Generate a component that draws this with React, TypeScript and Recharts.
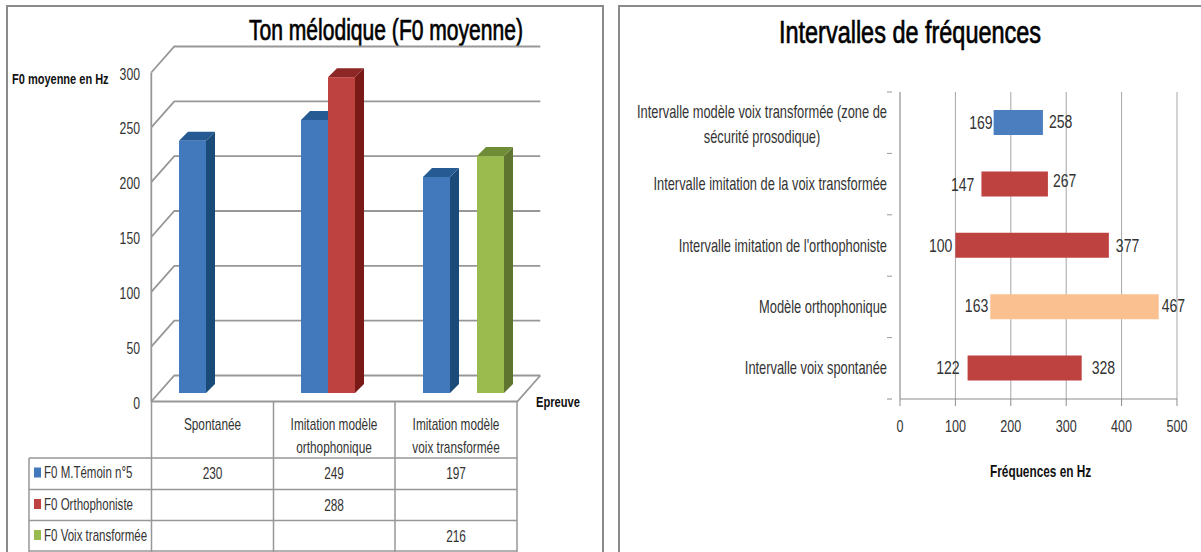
import { BarChart, Bar, XAxis, YAxis, CartesianGrid, Cell, LabelList } from "recharts";

const FONT = "'Liberation Sans', sans-serif";
const TEXT = "#333333";
const LINE = "#979797";

// left chart
const epreuves = ["Spontanée", "Imitation modèle orthophonique", "Imitation modèle voix transformée"];
const epreuveLines = [["Spontanée"], ["Imitation modèle", "orthophonique"], ["Imitation modèle", "voix transformée"]];
const temoin = [230, 249, 197];
const orthophoniste = [null, 288, null];
const voixTransformee = [null, null, 216];
const f0Ticks = [0, 50, 100, 150, 200, 250, 300];

const tableRows = [
    { name: "F0 M.Témoin n°5", values: temoin, color: "#4279bd" },
    { name: "F0 Orthophoniste", values: orthophoniste, color: "#be4340" },
    { name: "F0 Voix transformée", values: voixTransformee, color: "#9bbb4f" },
];

const f0Data = epreuves.map((name, i) => ({
    name,
    temoin: temoin[i],
    orthophoniste: orthophoniste[i],
    voix: voixTransformee[i],
}));

// right chart
const intervalNames = [
    "Intervalle modèle voix transformée (zone de sécurité prosodique)",
    "Intervalle imitation de la voix transformée",
    "Intervalle imitation de l'orthophoniste",
    "Modèle orthophonique",
    "Intervalle voix spontanée",
];
const lows = [169, 147, 100, 163, 122];
const highs = [258, 267, 377, 467, 328];
const intervalColors = ["#4a7ebf", "#be4340", "#be4340", "#fac08f", "#be4340"];
const freqTicks = [0, 100, 200, 300, 400, 500];

// hand placed labels in the original
const lowGap = [1, 7, 3, 2, 8];
const highGap = [6, 5, 7, 3, 10];
const lowDy = [0, 1, 0, -1, -1];
const highDy = [-1, -3, 0, -1, -1];

const intervalData = intervalNames.map((name, i) => ({ name, range: [lows[i], highs[i]] }));

const PLOT_H = 329;
const FRONT = { dx: -6.7, dy: 8.5 };
const BACK = { dx: 16.3, dy: -17.5 };

// no Calibri here, so squeeze Liberation Sans to get the same narrow look
function Narrow({ x, y, size = 16, anchor = "start", sx = 0.76, bold = false, children }: any) {
    return (
        <text
            transform={`translate(${x} ${y}) scale(${sx} 1)`}
            textAnchor={anchor}
            fontFamily={FONT}
            fontSize={size}
            fontWeight={bold ? "bold" : "normal"}
            fill={bold ? "#111111" : TEXT}
        >
            {children}
        </text>
    );
}

function Bar3D({ x, y, width, height, fill, side, top }: any) {
    if (!height) return null;
    const d = 9;
    return (
        <g>
            <polygon points={`${x + width},${y} ${x + width + d},${y - d} ${x + width + d},${y + height - d} ${x + width},${y + height}`} fill={side} />
            <polygon points={`${x},${y} ${x + d},${y - d} ${x + width + d},${y - d} ${x + width},${y}`} fill={top} />
            <rect x={x} y={y} width={width} height={height} fill={fill} />
        </g>
    );
}

function WallLine({ x1, x2, y1 }: any) {
    const fx = x1 + FRONT.dx;
    const fy = y1 + FRONT.dy;
    const bx = x1 + BACK.dx;
    const by = y1 + BACK.dy;
    const backRight = x2 + BACK.dx;
    const isFloor = y1 > 390;
    return (
        <g fill="none" stroke={LINE} strokeWidth={1.8}>
            <polyline points={`${fx},${fy} ${bx},${by} ${backRight},${by}`} />
            {!isFloor && <line x1={fx} y1={fy} x2={fx} y2={fy + PLOT_H / 6} />}
            {isFloor && <polyline points={`${fx},${fy} ${fx + 366},${fy} ${backRight},${by}`} />}
        </g>
    );
}

function F0Tick({ y, payload }: any) {
    return <Narrow x={140} y={y + 15.5} size={17} anchor="end" sx={0.72}>{payload.value}</Narrow>;
}

function IntervalTick({ x, y, index, payload }: any) {
    const band = 307 / 5;
    const name: string = payload.value;
    const cut = name.indexOf("(zone de") + 8;
    const wrapped = name.length > 50;
    return (
        <g>
            <line x1={x - 5} x2={x} y1={y - band / 2} y2={y - band / 2} stroke="#999999" />
            {index === intervalNames.length - 1 && (
                <line x1={x - 5} x2={x} y1={y + band / 2} y2={y + band / 2} stroke="#8c8c8c" />
            )}
            {wrapped ? (
                <g>
                    <Narrow x={x - 130} y={y - 5} size={17.5} anchor="middle" sx={0.735}>{name.slice(0, cut)}</Narrow>
                    <Narrow x={x - 130} y={y + 20} size={17.5} anchor="middle" sx={0.735}>{name.slice(cut + 1)}</Narrow>
                </g>
            ) : (
                <Narrow x={x - 5} y={y + 6} size={17.5} anchor="end" sx={0.735}>{name}</Narrow>
            )}
        </g>
    );
}

function FreqTick({ x, y, payload }: any) {
    return <Narrow x={x} y={y + 24} size={17} anchor="middle" sx={0.74}>{payload.value}</Narrow>;
}

function LowLabel({ x, y, height, index }: any) {
    return (
        <Narrow x={x - lowGap[index]} y={y + height / 2 + 6.5 + lowDy[index]} size={18.5} anchor="end">
            {lows[index]}
        </Narrow>
    );
}

function HighLabel({ x, y, width, height, index }: any) {
    return (
        <Narrow x={x + width + highGap[index]} y={y + height / 2 + 6.5 + highDy[index]} size={18.5}>
            {highs[index]}
        </Narrow>
    );
}

function FrameAndTable() {
    const rowY = [458, 489.5, 520.5, 551];
    const colX = [151.5, 273.5, 395, 517];
    const colCenter = [212.5, 334, 456];
    return (
        <svg width={1201} height={552} style={{ position: "absolute", left: 0, top: 0 }}>
            <polyline points="7,552 7,6 603,6 603,552" fill="none" stroke="#8a8a8a" strokeWidth={2} />
            <polyline points="619,552 619,6 1201,6" fill="none" stroke="#8a8a8a" strokeWidth={2} />

            {colX.map((x) => (
                <line key={x} x1={x} x2={x} y1={401} y2={552} stroke={LINE} strokeWidth={1.5} />
            ))}
            <line x1={29} x2={29} y1={458} y2={552} stroke={LINE} strokeWidth={1.5} />
            {rowY.map((y) => (
                <line key={y} x1={29} x2={517} y1={y} y2={y} stroke={LINE} strokeWidth={1.5} />
            ))}

            {epreuveLines.map((lines, i) =>
                lines.map((l, j) => (
                    <Narrow key={l + i} x={colCenter[i]} y={430 + j * 23} size={16} anchor="middle" sx={0.74}>
                        {l}
                    </Narrow>
                ))
            )}
            {tableRows.map((row, r) => (
                <g key={row.name}>
                    <rect x={34} y={rowY[r] + 9.5} width={7} height={10} fill={row.color} />
                    <Narrow x={44} y={rowY[r] + 20} size={16} sx={0.72}>{row.name}</Narrow>
                    {row.values.map((v, i) =>
                        v == null ? null : (
                            <Narrow key={i} x={colCenter[i]} y={rowY[r] + 21} size={16} anchor="middle" sx={0.74}>
                                {v}
                            </Narrow>
                        )
                    )}
                </g>
            ))}

            <text x={249} y={40} textLength={274} lengthAdjust="spacingAndGlyphs" fontFamily={FONT} fontSize={29} fill="#000" stroke="#000" strokeWidth={0.7}>
                Ton mélodique (F0 moyenne)
            </text>
            <Narrow x={12} y={84} size={14.5} sx={0.76} bold>F0 moyenne en Hz</Narrow>
            <Narrow x={536} y={407} size={15.5} sx={0.72} bold>Epreuve</Narrow>

            <text x={779} y={43} textLength={262} lengthAdjust="spacingAndGlyphs" fontFamily={FONT} fontSize={31} fill="#000" stroke="#000" strokeWidth={0.7}>
                Intervalles de fréquences
            </text>
            <Narrow x={990} y={477} size={16} sx={0.74} bold>Fréquences en Hz</Narrow>
        </svg>
    );
}

export default function App() {
    return (
        <div style={{ position: "absolute", left: 0, top: 0, width: 1201, height: 552, background: "#fff", overflow: "hidden" }}>
            <FrameAndTable />

            <div style={{ position: "absolute", left: 0, top: 0 }}>
                <BarChart
                    width={610}
                    height={552}
                    data={f0Data}
                    margin={{ top: 64, right: 86, bottom: 159, left: 0 }}
                    barSize={27}
                    barGap={0}
                >
                    <CartesianGrid vertical={false} horizontal={(p: any) => <WallLine key={p.y1} {...p} />} />
                    <XAxis dataKey="name" hide />
                    <YAxis width={158} domain={[0, 300]} ticks={f0Ticks} axisLine={false} tickLine={false} tick={<F0Tick />} />
                    <Bar dataKey="temoin" fill="#4279bd" isAnimationActive={false} shape={<Bar3D side="#1a4a78" top="#255a92" />} />
                    <Bar dataKey="orthophoniste" fill="#be4340" isAnimationActive={false} shape={<Bar3D side="#7a1a16" top="#8c2725" />} />
                    <Bar dataKey="voix" fill="#9bbb4f" isAnimationActive={false} shape={<Bar3D side="#5f752f" top="#6f8c37" />} />
                </BarChart>
            </div>

            <div style={{ position: "absolute", left: 610, top: 0 }}>
                <BarChart
                    layout="vertical"
                    width={591}
                    height={552}
                    data={intervalData}
                    margin={{ top: 92, right: 24, bottom: 123, left: 0 }}
                    barSize={25}
                >
                    <CartesianGrid horizontal={false} stroke="#a6a6a6" />
                    <XAxis
                        type="number"
                        domain={[0, 500]}
                        ticks={freqTicks}
                        height={30}
                        stroke="#8c8c8c"
                        tickSize={7}
                        tick={<FreqTick />}
                    />
                    <YAxis
                        type="category"
                        dataKey="name"
                        width={290}
                        stroke="#a6a6a6"
                        tickLine={false}
                        interval={0}
                        tick={<IntervalTick />}
                    />
                    <Bar dataKey="range" isAnimationActive={false}>
                        {intervalData.map((d, i) => (
                            <Cell key={d.name} fill={intervalColors[i]} />
                        ))}
                        <LabelList content={<LowLabel />} />
                        <LabelList content={<HighLabel />} />
                    </Bar>
                </BarChart>
            </div>
        </div>
    );
}
